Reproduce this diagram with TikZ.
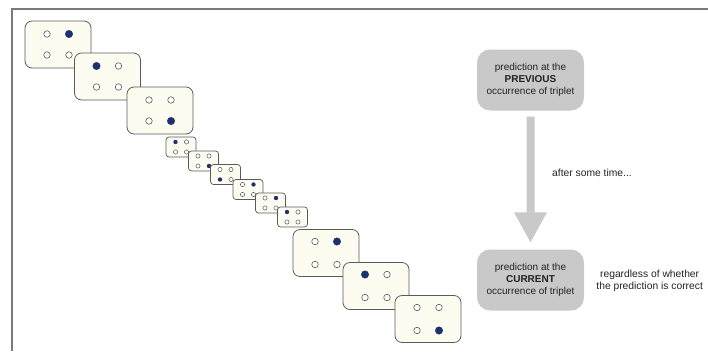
\documentclass[tikz,border=0pt]{standalone}
\usepackage{fontspec}
\setmainfont{Liberation Sans}
\usetikzlibrary{calc}
\definecolor{framegray}{HTML}{7A7A7A}
\definecolor{boxfill}{HTML}{FDFCF1}
\definecolor{boxline}{HTML}{5A5A5A}
\definecolor{navy}{HTML}{1B3172}
\definecolor{predgray}{HTML}{C9C9C9}
\definecolor{txt}{HTML}{222222}
\tikzset{
  bigbox/.style={draw=boxline, fill=boxfill, rounded corners=7pt, minimum width=66pt, minimum height=47pt, line width=0.8pt, inner sep=0pt},
  smallbox/.style={draw=boxline, fill=boxfill, rounded corners=3pt, minimum width=30pt, minimum height=20pt, line width=0.7pt, inner sep=0pt},
  bdotopen/.style={circle, draw=boxline, fill=white, minimum size=6.5pt, inner sep=0pt, line width=0.6pt},
  bdotfill/.style={circle, draw=navy!80!black, fill=navy, minimum size=7.5pt, inner sep=0pt, line width=0.3pt},
  sdotopen/.style={circle, draw=boxline, fill=white, minimum size=4.2pt, inner sep=0pt, line width=0.5pt},
  sdotfill/.style={circle, fill=navy, minimum size=4.4pt, inner sep=0pt},
  predbox/.style={fill=predgray, rounded corners=13pt, minimum width=107pt, minimum height=61pt, align=center, font=\fontsize{10}{11.6}\selectfont, text=txt, inner sep=0pt},
  note/.style={font=\fontsize{10.3}{12}\selectfont, text=txt, align=center, inner sep=0pt},
  fatarrow/.style={fill=predgray}
}
\newcommand\dotsin[5]{% #1 box, #2 dx, #3 dy, #4 filled (1 tl,2 tr,3 bl,4 br), #5 size prefix
  \foreach \k/\sx/\sy in {1/-1/-1,2/1/-1,3/-1/1,4/1/1}{%
    \ifnum\k=#4\relax
      \node[#5dotfill] (#1d\k) at ([shift={(\sx*#2,\sy*#3)}]#1.center) {};
    \else
      \node[#5dotopen] (#1d\k) at ([shift={(\sx*#2,\sy*#3)}]#1.center) {};
    \fi}%
}
\begin{document}
\begin{tikzpicture}[x=1pt,y=-1pt]
\useasboundingbox (0,0) rectangle (708,351);
% frame
\draw[framegray, line width=2pt] (11.5,351) -- (11.5,8.5) -- (708,8.5);
% first three big boxes
\node[bigbox] (b1) at (58,44.5) {};
\dotsin{b1}{11}{10.5}{2}{b}
\node[bigbox] (b2) at (107.5,76.5) {};
\dotsin{b2}{11}{10.5}{1}{b}
\node[bigbox] (b3) at (160,110.5) {};
\dotsin{b3}{11}{10.5}{4}{b}
% small boxes
\node[smallbox] (s1) at (181,147) {};
\dotsin{s1}{5.5}{5}{1}{s}
\node[smallbox] (s2) at (203.5,161) {};
\dotsin{s2}{5.5}{5}{4}{s}
\node[smallbox] (s3) at (225.5,174.5) {};
\dotsin{s3}{5.5}{5}{3}{s}
\node[smallbox] (s4) at (248,189.5) {};
\dotsin{s4}{5.5}{5}{2}{s}
\node[smallbox] (s5) at (270.5,203) {};
\dotsin{s5}{5.5}{5}{2}{s}
\node[smallbox] (s6) at (292.5,217) {};
\dotsin{s6}{5.5}{5}{1}{s}
% last three big boxes
\node[bigbox] (b4) at (326,253) {};
\dotsin{b4}{11}{11.5}{2}{b}
\node[bigbox] (b5) at (376,286) {};
\dotsin{b5}{11}{11.5}{1}{b}
\node[bigbox] (b6) at (428,319) {};
\dotsin{b6}{11}{11.5}{4}{b}
% prediction boxes
\node[predbox] (prev) at (530.5,80) {prediction at the\\\textbf{PREVIOUS}\\occurrence of triplet};
\node[predbox] (curr) at (530.5,280) {prediction at the\\\textbf{CURRENT}\\occurrence of triplet};
% fat arrow
\coordinate (as) at ([yshift=-6pt]prev.south);
\coordinate (at) at ([yshift=7pt]curr.north);
\fill[fatarrow] ($(as)+(-4,0)$) -- ($(as)+(4,0)$) -- ($(at)+(4,-30)$) -- ($(at)+(16.5,-30)$)
  -- (at) -- ($(at)+(-16.5,-30)$) -- ($(at)+(-4,-30)$) -- cycle;
% notes
\node[note, anchor=west] (time) at (552,173) {after some time...};
\node[note, anchor=west] (reg) at ([xshift=12pt,yshift=-1pt]curr.east) {regardless of whether\\the prediction is correct};
\end{tikzpicture}
\end{document}
